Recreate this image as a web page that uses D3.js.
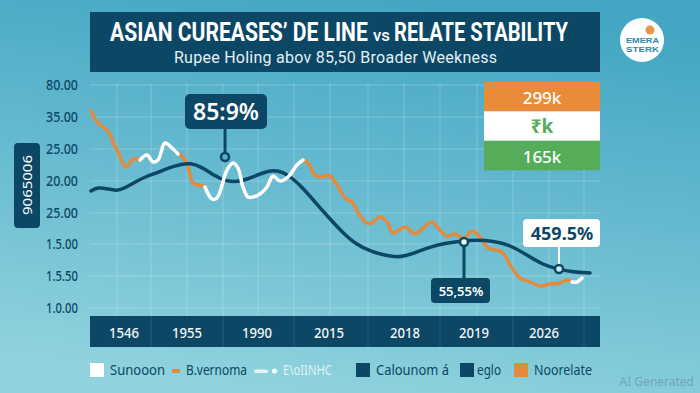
<!DOCTYPE html>
<html><head><meta charset="utf-8">
<script src="https://cdn.jsdelivr.net/npm/d3@7"></script>
<style>html,body{margin:0;padding:0;overflow:hidden;background:#66b8cf}svg{display:block}text{font-family:"Noto Sans","Open Sans",sans-serif}</style>
</head><body><svg id="c" width="700" height="393"></svg>
<script>
const yTickLabels=["1.0.00","1.5.50","1.5.00","25.00","20.00","25.00","35.00","80.00"];
const yTickValues=[0,32,64,95,127,159,191,223];
const xTickLabels=["1546","1955","1990","2015","2018","2019","2026"];
const xTickValues=[34,97,167,239,315,384,454];
const xGridValues=[27,61,97,133,168,204,240,278,314,350,387,423,459,494];
const navyX=[1,8,18,27,35,45,57,67,78,92,100,112,125,135,148,158,172,183,193,202,212,225,240,253,267,280,297,308,315,327,340,357,370,387,403,420,437,453,468,483,500];
const navyY=[117,121,119,117,120,126,132,135,140,144,145,141,132,127,126,129,135,138,136,130,121,106,89,75,63,57,52,51,52,56,61,65,67,68,67,63,53,43,39,36,35];
const orange1X=[1,8,18,23,28,36,42,48,50];
const orange1Y=[197,185,177,166,156,141,148,149,148];
const white1X=[50,57,63,68,75,82,88];
const white1Y=[148,153,146,148,165,160,154];
const orange2X=[88,93,98,103,112,115];
const orange2Y=[154,151,141,125,122,121];
const white2X=[115,122,127,137,143,148,153,158,163,170,177,183,190,198,207,213];
const white2Y=[121,109,110,138,145,140,121,111,111,114,121,132,127,131,143,148];
const orange3X=[213,218,225,232,238,245,250,255,263,268,277,282,290,297,303,315,325,333,342,348,357,365,372,375,382,390,398,412,420,430,440,450,460,470,477,482];
const orange3Y=[148,145,133,131,133,126,118,110,105,95,85,85,91,86,75,81,74,80,86,80,72,74,70,70,77,71,60,56,43,30,26,22,24,25,28,26];
const white3X=[482,487,492];
const white3Y=[26,26,30];
const legendLabels=["Sunooon","B.vernoma","E\\oIINHC","Calounom á","eglo","Noorelate"];
const stackLabels=["299k","₹k","165k"];
const stackColors=["#e98b38","#ffffff","#55ad59"];

const NAVY="#0c4765",ORANGE="#e48a3c";
const svg=d3.select("#c");
const defs=svg.append("defs");
const g=defs.append("linearGradient").attr("id","bg").attr("x1",0.62).attr("y1",0).attr("x2",0.38).attr("y2",1);
g.append("stop").attr("offset",0).attr("stop-color","#43a6c2");
g.append("stop").attr("offset",0.5).attr("stop-color","#68bbd0");
g.append("stop").attr("offset",1).attr("stop-color","#90d3de");
svg.append("rect").attr("width",700).attr("height",393).attr("fill","url(#bg)");

const x=d3.scaleLinear().domain([0,510]).range([90,600]);
const y=d3.scaleLinear().domain([0,223]).range([308,85]);

// grid
svg.append("g").selectAll("line").data(yTickValues).join("line")
 .attr("x1",x(0)).attr("x2",x(510)).attr("y1",d=>y(d)).attr("y2",d=>y(d))
 .attr("stroke","#fff").attr("stroke-opacity",.22);
svg.append("g").selectAll("line").data(xGridValues).join("line")
 .attr("x1",d=>x(d)).attr("x2",d=>x(d)).attr("y1",83).attr("y2",316)
 .attr("stroke","#fff").attr("stroke-opacity",.22);

// y labels
svg.append("g").selectAll("text").data(yTickValues).join("text")
 .attr("x",46).attr("y",d=>y(d)+5).attr("font-size",14).attr("font-weight",500)
 .attr("textLength",32).attr("lengthAdjust","spacingAndGlyphs")
 .attr("fill",NAVY).text((d,i)=>yTickLabels[i]);

// title
svg.append("rect").attr("x",90).attr("y",12).attr("width",510).attr("height",60).attr("fill",NAVY);
const tt=(s,xp,len,fs,w)=>{
 const t=svg.append("text").style("font-family","Roboto").attr("font-size",fs).attr("font-weight",w).attr("fill","#fff").text(s);
 const n=t.node().getComputedTextLength();
 t.attr("transform",`translate(${xp},41) scale(${len/n},1)`);
};
tt("ASIAN CUREASES’ DE LINE",110,258,25,700);
tt("vs",373,17,17,500);
tt("RELATE STABILITY",394,174,25,700);
svg.append("text").style("font-family","Roboto").attr("x",174).attr("y",63).attr("font-size",16).attr("fill","#e3f0f5")
 .attr("textLength",323).attr("lengthAdjust","spacing").text("Rupee Holing abov 85,50 Broader  Weekness");

// logo
svg.append("circle").attr("cx",642).attr("cy",40).attr("r",22).attr("fill","#fff");
svg.append("circle").attr("cx",650).attr("cy",30).attr("r",4.5).attr("fill","#e8974a");
const logo=(s,yp)=>svg.append("text").style("font-family","Liberation Sans").attr("x",626).attr("y",yp).attr("font-size",8).attr("font-weight",700).attr("fill","#2b8aa8")
 .attr("textLength",33).attr("lengthAdjust","spacingAndGlyphs").text(s);
logo("EMERA",42.5);logo("STERK",51.5);

// left pill
svg.append("rect").attr("x",14).attr("y",143).attr("width",26).attr("height",85).attr("rx",4).attr("fill",NAVY);
svg.append("text").attr("transform","translate(32,215) rotate(-90)").attr("font-size",13).attr("fill","#fff")
 .attr("textLength",60).attr("lengthAdjust","spacingAndGlyphs").text("9065006");

// lines
const line=d3.line().x(d=>x(d[0])).y(d=>y(d[1])).curve(d3.curveCatmullRom.alpha(.5));
const smooth=d3.line().x(d=>x(d[0])).y(d=>y(d[1])).curve(d3.curveBasis);
const draw=(xs,ys,c,w,gen=line)=>svg.append("path").attr("d",gen(xs.map((v,i)=>[v,ys[i]]))).attr("fill","none").attr("stroke",c).attr("stroke-width",w).attr("stroke-linecap","round").attr("stroke-linejoin","round");
draw(orange1X,orange1Y,ORANGE,3.5);draw(orange2X,orange2Y,ORANGE,3.5);draw(orange3X,orange3Y,ORANGE,3.5);
draw(navyX,navyY,NAVY,3.5,smooth);
draw(white1X,white1Y,"#fff",3.5);draw(white2X,white2Y,"#fff",3.5);draw(white3X,white3Y,"#fff",3.5);

// stacked box
const stackH=29.33;
stackLabels.forEach((s,i)=>{
 svg.append("rect").attr("x",484).attr("y",82+i*stackH).attr("width",116).attr("height",stackH+.4).attr("fill",stackColors[i]);
 svg.append("text").attr("x",542).attr("y",82+i*stackH+22).attr("text-anchor","middle").attr("font-size",i==1?19:17).attr("font-weight",i==1?700:500)
  .attr("fill",i==1?"#55ad59":"#fff").text(s);
});

// callouts
const stem=(px,y1,y2,c)=>svg.append("line").attr("x1",px).attr("x2",px).attr("y1",y1).attr("y2",y2).attr("stroke",c).attr("stroke-width",c==="#fff"?2:3);
const dot=(px,py,f)=>svg.append("circle").attr("cx",px).attr("cy",py).attr("r",4).attr("fill",f).attr("stroke",NAVY).attr("stroke-width",2.5);
stem(225,125,153,NAVY);dot(225,157,"#5cb0c8");
svg.append("rect").attr("x",185).attr("y",94).attr("width",82).attr("height",35).attr("rx",5).attr("fill",NAVY);
svg.append("text").attr("x",226).attr("y",120).attr("text-anchor","middle").attr("font-size",23).attr("font-weight",600).attr("fill","#fff").text("85:9%");

stem(x(374),y(66),280,NAVY);dot(x(374),y(66),"#e6f4f7");
svg.append("rect").attr("x",431).attr("y",278).attr("width",59).attr("height",25).attr("rx",4).attr("fill",NAVY);
svg.append("text").attr("x",461).attr("y",296).attr("text-anchor","middle").attr("font-size",13).attr("font-weight",600).attr("fill","#fff").text("55,55%");

stem(x(469),245,266,"#fff");dot(x(469),y(39),"#cfeaf0");
svg.append("rect").attr("x",523).attr("y",219).attr("width",77).attr("height",28).attr("rx",4).attr("fill","#fff");
svg.append("text").attr("x",562).attr("y",240).attr("text-anchor","middle").attr("font-size",18).attr("font-weight",700).attr("fill",NAVY).text("459.5%");

// x band
svg.append("rect").attr("x",90).attr("y",316).attr("width",510).attr("height",31).attr("fill",NAVY);
svg.append("g").selectAll("line").data(xGridValues.filter((d,i)=>i%2==1)).join("line")
 .attr("x1",d=>x(d)).attr("x2",d=>x(d)).attr("y1",316).attr("y2",347).attr("stroke","#fff").attr("stroke-opacity",.12);
svg.append("g").selectAll("text").data(xTickValues).join("text")
 .attr("x",d=>x(d)).attr("y",338).attr("text-anchor","middle").attr("font-size",15).attr("font-weight",500).attr("fill","#f2f8fa")
 .attr("textLength",30).attr("lengthAdjust","spacingAndGlyphs").text((d,i)=>xTickLabels[i]);

// legend
const legText=(i,xp,len,c)=>svg.append("text").attr("x",xp).attr("y",375).attr("font-size",14).attr("fill",c)
 .attr("textLength",len).attr("lengthAdjust","spacingAndGlyphs").text(legendLabels[i]);
const sq=(xp,c)=>svg.append("rect").attr("x",xp).attr("y",363).attr("width",14).attr("height",14).attr("fill",c);
sq(90,"#fff");legText(0,110,55,NAVY);
svg.append("rect").attr("x",172).attr("y",369).attr("width",8).attr("height",4).attr("fill",ORANGE);legText(1,186,61,NAVY);
svg.append("rect").attr("x",254).attr("y",369.5).attr("width",14).attr("height",3.5).attr("rx",1.7).attr("fill","#e3f3f6");
svg.append("circle").attr("cx",274.5).attr("cy",371).attr("r",2.5).attr("fill","#fff");legText(2,283,49,"#e0f2f5");
sq(356,NAVY);legText(3,376,73,NAVY);
sq(460,NAVY);legText(4,477,24,NAVY);
sq(514,ORANGE);legText(5,534,58,NAVY);
svg.append("text").attr("x",694).attr("y",386).attr("text-anchor","end").attr("font-size",12).attr("fill","#6fa6b5").text("AI Generated");
</script></body></html>
